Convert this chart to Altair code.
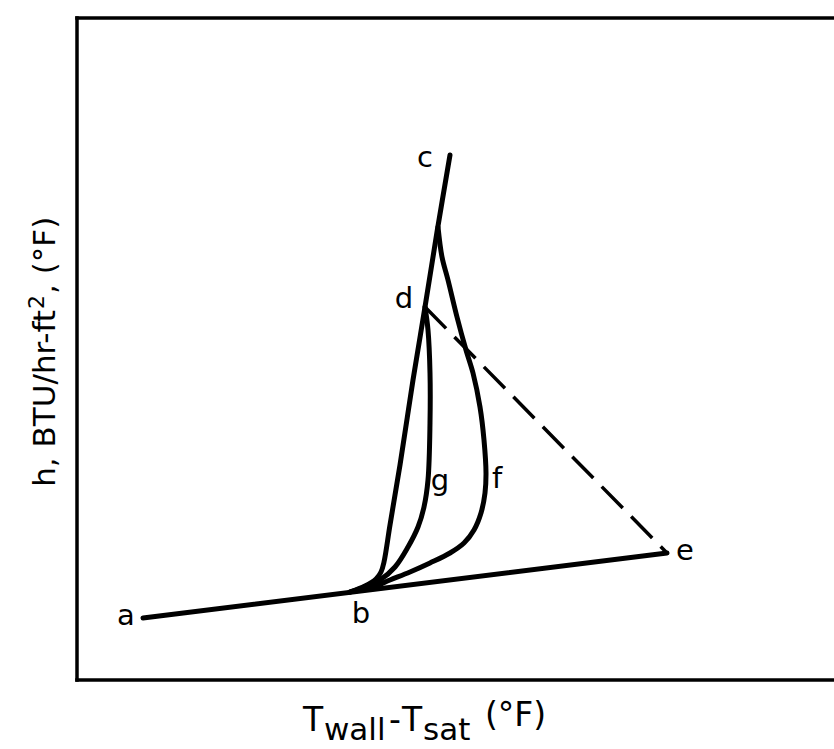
import altair as alt
import pandas as pd

# Values (arbitrary units: x = wall superheat, y = h)
ae_x = [66, 590]
ae_y = [62, 127]

bc_x = [273, 288, 299, 304, 307, 313, 323, 336, 348, 360, 373]
bc_y = [88, 94, 101, 108, 118, 155, 215, 300, 373, 448, 525]

dg_x = [348, 351, 353, 353, 351, 347, 341, 331, 318, 303, 285, 273]
dg_y = [373, 350, 307, 257, 200, 173, 153, 133, 113, 100, 92, 88]

f_x = [361, 365, 371, 380, 389, 396, 403, 407, 409, 408, 404, 397, 387, 373, 353, 333, 313, 296, 278]
f_y = [453, 423, 400, 363, 330, 307, 273, 240, 207, 187, 167, 150, 137, 127, 117, 108, 100, 93, 89]

de_x = [348, 590]
de_y = [373, 127]

label_text = ["a", "b", "c", "d", "e", "f", "g"]
label_x = [49, 284, 348, 327, 608, 420, 363]
label_y = [55, 57, 513, 372, 120, 192, 190]

X_MAX, Y_MAX = 757, 662

rows = []
for name, xs_, ys_ in [("ae", ae_x, ae_y), ("bc", bc_x, bc_y), ("dg", dg_x, dg_y), ("f", f_x, f_y)]:
    for i, (a, b) in enumerate(zip(xs_, ys_)):
        rows.append({"curve": name, "i": i, "x": a, "y": b})
solid = pd.DataFrame(rows)
dashed = pd.DataFrame({"i": list(range(len(de_x))), "x": de_x, "y": de_y})
labels = pd.DataFrame({"t": label_text, "x": label_x, "y": label_y})
one = pd.DataFrame({"k": [0]})

W, H = 757, 662
xsc = alt.Scale(domain=[0, X_MAX], nice=False, zero=False)
ysc = alt.Scale(domain=[0, Y_MAX], nice=False, zero=False)
FONT = "DejaVu Sans"

curves = alt.Chart(solid).mark_line(
    color="black", strokeWidth=5, interpolate="catmull-rom",
    strokeCap="round", strokeJoin="round"
).encode(
    x=alt.X("x:Q", scale=xsc, axis=None),
    y=alt.Y("y:Q", scale=ysc, axis=None),
    detail="curve:N",
    order="i:Q",
)

dash = alt.Chart(dashed).mark_line(
    color="black", strokeWidth=3.5, strokeDash=[30, 12]
).encode(
    x=alt.X("x:Q", scale=xsc, axis=None),
    y=alt.Y("y:Q", scale=ysc, axis=None),
    order="i:Q",
)

pts = alt.Chart(labels).mark_text(
    font=FONT, fontSize=29, baseline="alphabetic", align="center", color="black"
).encode(
    x=alt.X("x:Q", scale=xsc, axis=None),
    y=alt.Y("y:Q", scale=ysc, axis=None),
    text="t:N",
)

def rule(**enc):
    return alt.Chart(one).mark_rule(color="black", strokeWidth=3.5, strokeCap="square").encode(**enc)

frame = [
    rule(x=alt.value(0), y=alt.value(0), y2=alt.value(H)),
    rule(x=alt.value(0), x2=alt.value(W + 10), y=alt.value(0)),
    rule(x=alt.value(0), x2=alt.value(W + 10), y=alt.value(H)),
]

def txt(s, x, y, size, align="left", angle=0):
    kw = dict(font=FONT, fontSize=size, baseline="alphabetic", align=align, color="black")
    if angle:
        kw["angle"] = angle
    return alt.Chart(one).mark_text(**kw).encode(
        x=alt.value(x), y=alt.value(y), text=alt.value(s)
    )

XS = 33
SUB = 31
xtitle = [
    txt("T", 226, 713, XS),
    txt("wall", 247, 722, SUB),
    txt("-", 312, 713, XS),
    txt("T", 325, 713, XS),
    txt("sat", 346, 722, SUB),
    txt("(°F)", 408, 708, XS),
]

ytitle = [
    txt("h, BTU/hr-ft", -22, 292, 31, align="right", angle=270),
    txt("2", -33, 291, 22, align="left", angle=270),
    txt(", (°F)", -22, 276, 31, align="left", angle=270),
]

chart = alt.layer(*frame, curves, dash, pts, *xtitle, *ytitle).properties(
    width=W, height=H,
    autosize=alt.AutoSizeParams(type="none"),
    padding={"left": 77, "top": 18, "right": 0, "bottom": 69},
).configure_view(stroke=None)

chart.save("out.html", embed_options={"renderer": "svg", "actions": False})
